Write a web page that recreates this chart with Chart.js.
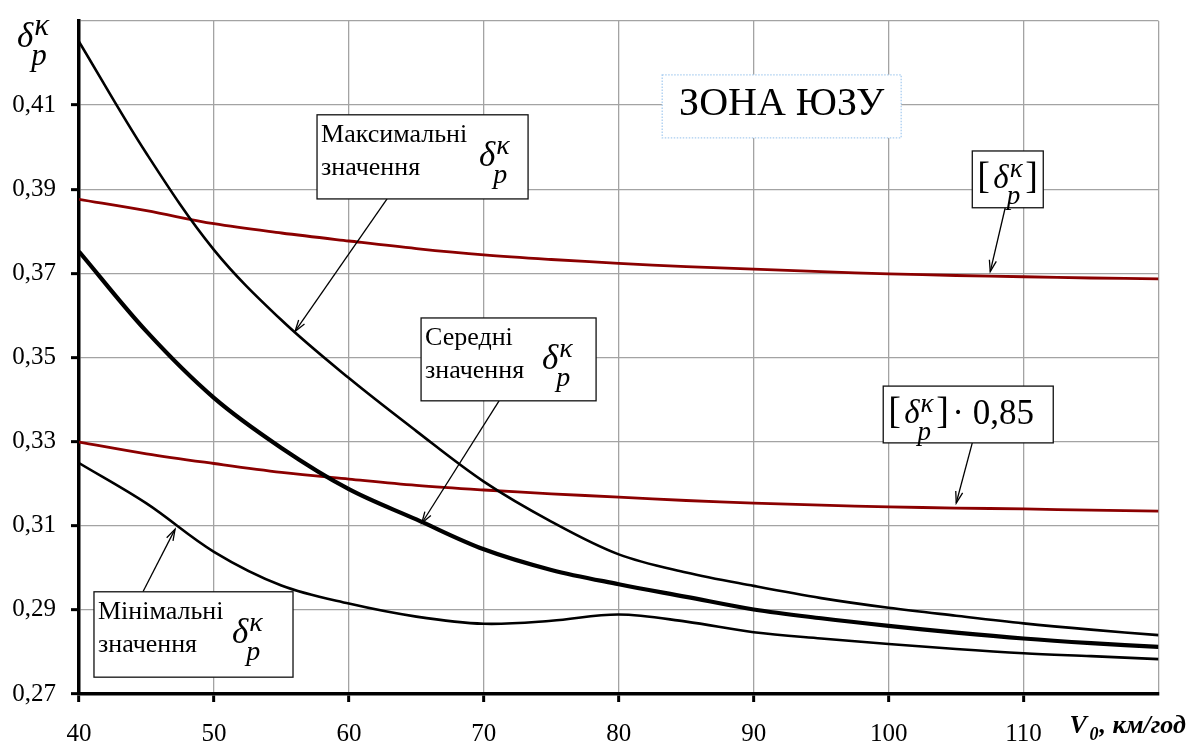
<!DOCTYPE html>
<html>
<head>
<meta charset="utf-8">
<script src="https://cdn.jsdelivr.net/npm/chart.js@4"></script>
<style>
  body { margin: 0; background: #fff; }
  #wrap { width: 1193px; height: 744px; position: relative; }
</style>
</head>
<body>
<div id="wrap"><canvas id="myChart"></canvas></div>
<script>
// speed V0, km/h
const speeds = [40, 45, 50, 55, 60, 65, 70, 75, 80, 85, 90, 95, 100, 105, 110, 115, 120];

// braking coefficient values
const maxValues  = [0.4251, 0.3985, 0.3756, 0.3589, 0.3451, 0.3325, 0.3205, 0.3110, 0.3032, 0.2989, 0.2957, 0.2928, 0.2905, 0.2886, 0.2868, 0.2853, 0.2840];
const meanValues = [0.3752, 0.3562, 0.3404, 0.3285, 0.3187, 0.3115, 0.3044, 0.2995, 0.2961, 0.2931, 0.2901, 0.2880, 0.2862, 0.2846, 0.2832, 0.2821, 0.2812];
const minValues  = [0.3249, 0.3153, 0.3038, 0.2958, 0.2915, 0.2884, 0.2867, 0.2874, 0.2889, 0.2872, 0.2847, 0.2832, 0.2819, 0.2807, 0.2797, 0.2790, 0.2783];
const limitValues   = [0.3876, 0.3849, 0.3818, 0.3796, 0.3777, 0.3759, 0.3744, 0.3733, 0.3724, 0.3716, 0.3710, 0.3704, 0.3699, 0.3695, 0.3692, 0.3689, 0.3687];
const limit85Values = [0.3299, 0.3271, 0.3248, 0.3227, 0.3211, 0.3196, 0.3185, 0.3176, 0.3168, 0.3160, 0.3154, 0.3149, 0.3145, 0.3142, 0.3140, 0.3137, 0.3135];

// axis ticks
const xTickValues = [40, 50, 60, 70, 80, 90, 100, 110, 120];
const xTickLabels = ['40', '50', '60', '70', '80', '90', '100', '110', ''];
const yTickValues = [0.27, 0.29, 0.31, 0.33, 0.35, 0.37, 0.39, 0.41, 0.43];
const yTickLabels = ['0,27', '0,29', '0,31', '0,33', '0,35', '0,37', '0,39', '0,41', ''];

const SERIF = '"Liberation Serif", "Times New Roman", serif';
const DARK_RED = '#8B0000';

function toPoints(values) {
  return speeds.map((v, i) => ({ x: v, y: values[i] }));
}

// notes: box corners and arrow ends are in data units
const notes = [
  { kind: 'label', lines: ['Максимальні', 'значення'], box: [57.64, 0.4077, 73.28, 0.3877],
    arrow: [62.83, 0.3877, 56.01, 0.3562], deltaOffset: 49 },
  { kind: 'label', lines: ['Середні', 'значення'], box: [65.35, 0.3594, 78.32, 0.3397],
    arrow: [71.13, 0.3397, 65.40, 0.3106], deltaOffset: 54 },
  { kind: 'label', lines: ['Мінімальні', 'значення'], box: [41.11, 0.2943, 55.86, 0.2740],
    arrow: [44.74, 0.2943, 47.12, 0.3092], deltaOffset: 61 },
  { kind: 'limit', tail: '', box: [106.20, 0.3991, 111.46, 0.3856],
    arrow: [108.64, 0.3856, 107.53, 0.3704] },
  { kind: 'limit', tail: '· 0,85', box: [99.60, 0.3432, 112.20, 0.3297],
    arrow: [106.20, 0.3297, 105.01, 0.3154] },
  { kind: 'zone', text: 'ЗОНА ЮЗУ', box: [83.22, 0.4172, 100.93, 0.4022] }
];

function drawDelta(ctx, x, y, size, subSize) {
  ctx.textAlign = 'left';
  ctx.textBaseline = 'alphabetic';
  ctx.font = 'italic ' + size + 'px ' + SERIF;
  ctx.fillText('δ', x, y);
  const w = ctx.measureText('δ').width;
  ctx.font = 'italic ' + subSize + 'px ' + SERIF;
  ctx.fillText('κ', x + w + 1, y - size * 0.33);
  ctx.fillText('p', x + w - 2, y + size * 0.5);
}

function drawArrow(ctx, x1, y1, x2, y2) {
  ctx.save();
  ctx.strokeStyle = '#000';
  ctx.lineWidth = 1.3;
  ctx.beginPath();
  ctx.moveTo(x1, y1);
  ctx.lineTo(x2, y2);
  ctx.stroke();
  const a = Math.atan2(y2 - y1, x2 - x1);
  const len = 12, spread = 0.3;
  ctx.beginPath();
  ctx.moveTo(x2 - len * Math.cos(a - spread), y2 - len * Math.sin(a - spread));
  ctx.lineTo(x2, y2);
  ctx.lineTo(x2 - len * Math.cos(a + spread), y2 - len * Math.sin(a + spread));
  ctx.stroke();
  ctx.restore();
}

const notesPlugin = {
  id: 'notes',
  afterDraw(chart) {
    const ctx = chart.ctx;
    const xs = chart.scales.x, ys = chart.scales.y;
    const area = chart.chartArea;
    ctx.save();
    ctx.fillStyle = '#000';

    notes.forEach(n => {
      const left = xs.getPixelForValue(n.box[0]);
      const top = ys.getPixelForValue(n.box[1]);
      const right = xs.getPixelForValue(n.box[2]);
      const bottom = ys.getPixelForValue(n.box[3]);

      if (n.arrow) {
        drawArrow(ctx,
          xs.getPixelForValue(n.arrow[0]), ys.getPixelForValue(n.arrow[1]),
          xs.getPixelForValue(n.arrow[2]), ys.getPixelForValue(n.arrow[3]));
      }

      ctx.fillStyle = '#fff';
      ctx.fillRect(left, top, right - left, bottom - top);
      ctx.lineWidth = 1.3;
      if (n.kind === 'zone') {
        ctx.strokeStyle = '#a9cdf0';
        ctx.setLineDash([1.5, 1.5]);
      } else {
        ctx.strokeStyle = '#111';
        ctx.setLineDash([]);
      }
      ctx.strokeRect(left, top, right - left, bottom - top);
      ctx.setLineDash([]);
      ctx.fillStyle = '#000';
      ctx.textBaseline = 'alphabetic';

      if (n.kind === 'label') {
        ctx.textAlign = 'left';
        ctx.font = '26px ' + SERIF;
        ctx.fillText(n.lines[0], left + 4, top + 27);
        ctx.fillText(n.lines[1], left + 4, top + 60);
        drawDelta(ctx, right - n.deltaOffset, top + 51, 35, 28);
      } else if (n.kind === 'limit') {
        ctx.textAlign = 'left';
        ctx.font = '38px ' + SERIF;
        ctx.fillText('[', left + 5, top + 37);
        drawDelta(ctx, left + 21, top + 37, 33, 27);
        ctx.font = '38px ' + SERIF;
        ctx.fillText(']', left + 53, top + 37);
        ctx.font = '35px ' + SERIF;
        if (n.tail) ctx.fillText(n.tail, left + 69, top + 38);
      } else {
        ctx.textAlign = 'center';
        ctx.font = '40px ' + SERIF;
        ctx.fillText(n.text, (left + right) / 2, top + 40);
      }
    });

    // axis titles
    drawDelta(ctx, area.left - 62, 47, 35, 31);
    ctx.font = 'italic bold 26px ' + SERIF;
    ctx.textAlign = 'left';
    ctx.fillText('V', area.right - 89, 733);
    ctx.font = 'italic bold 18px ' + SERIF;
    ctx.fillText('0', area.right - 69, 740);
    ctx.font = 'italic bold 26px ' + SERIF;
    ctx.fillText(', км/год', area.right - 59, 733);
    ctx.restore();
  }
};

const gridGrey = '#a3a3a3';

new Chart('myChart', {
  type: 'line',
  data: {
    datasets: [
      { label: 'Максимальні', data: toPoints(maxValues), borderColor: '#000', borderWidth: 2.6 },
      { label: 'Середні', data: toPoints(meanValues), borderColor: '#000', borderWidth: 4.2 },
      { label: 'Мінімальні', data: toPoints(minValues), borderColor: '#000', borderWidth: 2.6 },
      { label: '[δ]', data: toPoints(limitValues), borderColor: DARK_RED, borderWidth: 2.8 },
      { label: '[δ]·0,85', data: toPoints(limit85Values), borderColor: DARK_RED, borderWidth: 2.8 }
    ]
  },
  options: {
    responsive: true,
    maintainAspectRatio: false,
    animation: false,
    layout: { padding: { top: 21, right: 34.5, left: 0, bottom: 0 } },
    elements: {
      point: { radius: 0 },
      line: { tension: 0.35, fill: false }
    },
    plugins: {
      legend: { display: false },
      tooltip: { enabled: false }
    },
    scales: {
      x: {
        type: 'linear',
        min: 40,
        max: 120,
        afterFit: scale => { scale.height = 50; scale.paddingLeft = 0; scale.paddingRight = 0; },
        afterBuildTicks: scale => { scale.ticks = xTickValues.map(v => ({ value: v })); },
        ticks: {
          autoSkip: false,
          maxRotation: 0,
          padding: 17,
          color: '#000',
          font: { family: SERIF, size: 25 },
          callback: (value, index) => xTickLabels[index]
        },
        grid: {
          color: gridGrey,
          lineWidth: 1.3,
          tickLength: 8,
          tickWidth: 3,
          tickColor: c => (c.tick && c.tick.value === 120) ? 'rgba(0,0,0,0)' : '#000'
        },
        border: { color: '#000', width: 3.5 }
      },
      y: {
        type: 'linear',
        min: 0.27,
        max: 0.43,
        afterFit: scale => { scale.width = 79; scale.paddingTop = 0; scale.paddingBottom = 0; },
        afterBuildTicks: scale => { scale.ticks = yTickValues.map(v => ({ value: v })); },
        ticks: {
          autoSkip: false,
          padding: 15,
          color: '#000',
          font: { family: SERIF, size: 25 },
          callback: (value, index) => yTickLabels[index]
        },
        grid: {
          color: gridGrey,
          lineWidth: 1.3,
          tickLength: 8,
          tickWidth: 3,
          tickColor: c => (c.tick && Math.abs(c.tick.value - 0.43) < 1e-6) ? 'rgba(0,0,0,0)' : '#000'
        },
        border: { color: '#000', width: 3.5 }
      }
    }
  },
  plugins: [notesPlugin]
});
</script>
</body>
</html>
